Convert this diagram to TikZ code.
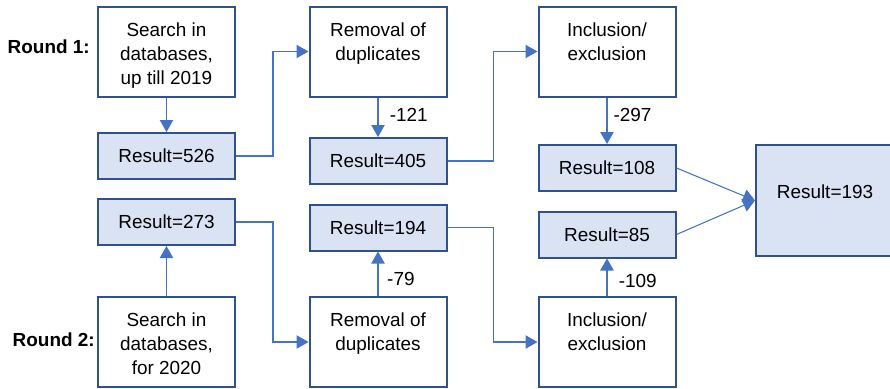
\documentclass[tikz,border=0pt]{standalone}
\usepackage{fontspec}
\setmainfont{Liberation Sans}
\usetikzlibrary{arrows.meta}
\definecolor{boxline}{RGB}{47,82,143}
\definecolor{boxfill}{RGB}{218,227,243}
\definecolor{flowline}{RGB}{68,114,196}

\begin{document}
\begin{tikzpicture}[x=0.75pt,y=0.75pt,yscale=-1,xscale=1,
		every node/.style={font=\fontsize{14.2pt}{18pt}\selectfont},
		stepbox/.style={draw=boxline,line width=1.5pt,fill=white,minimum width=102.75pt,minimum height=67.5pt,inner sep=0pt},
		resultbox/.style={draw=boxline,line width=1.5pt,fill=boxfill,minimum width=102.75pt,minimum height=34.5pt,inner sep=0pt},
		steptext/.style={anchor=north,align=center,inner sep=0pt,yshift=-12.5pt},
		flow/.style={draw=flowline,line width=0.8pt,-{Triangle[width=10pt,length=9pt]}},
		cut/.style={anchor=west,inner sep=0pt},
		roundlabel/.style={anchor=east,inner sep=0pt,font=\bfseries\fontsize{14.2pt}{18pt}\selectfont}]
	\useasboundingbox (0,0) rectangle (890,389);
	
	% Text Node
	\node[roundlabel] (rnd1) at (90,47) {Round 1:};
	% Text Node
	\node[roundlabel] (rnd2) at (95,340) {Round 2:};
	
	%Round 1 boxes
	\node[stepbox] (srch1) at (166.5,51.5) {};
	\node[steptext] (srch1t) at (srch1.north) {Search in\\databases,\\up till 2019};
	\node[stepbox] (dup1) at (378,51.5) {};
	\node[steptext] (dup1t) at (dup1.north) {Removal of\\duplicates};
	\node[stepbox] (incl1) at (607,51.5) {};
	\node[steptext] (incl1t) at (incl1.north) {Inclusion/\\exclusion};
	\node[resultbox] (res526) at (166.5,156) {Result=526};
	\node[resultbox] (res405) at (378,161) {Result=405};
	\node[resultbox] (res108) at (607,168) {Result=108};
	
	%Round 2 boxes
	\node[resultbox] (res273) at (166.5,222) {Result=273};
	\node[resultbox] (res194) at (378,227.5) {Result=194};
	\node[resultbox] (res85) at (607,234.5) {Result=85};
	\node[stepbox] (srch2) at (166.5,342) {};
	\node[steptext] (srch2t) at (srch2.north) {Search in\\databases,\\for 2020};
	\node[stepbox] (dup2) at (378,342) {};
	\node[steptext] (dup2t) at (dup2.north) {Removal of\\duplicates};
	\node[stepbox] (incl2) at (607,342) {};
	\node[steptext] (incl2t) at (incl2.north) {Inclusion/\\exclusion};
	
	%Total
	\node[resultbox,minimum width=103.5pt,minimum height=83.25pt] (res193) at (825,200.5) {};
	\node (res193t) at (825,192) {Result=193};
	
	%Connectors round 1
	\draw[flow] (srch1) -- (res526);
	\draw[flow] (res526.east) -- ++(37,0) |- (dup1.west);
	\draw[flow] (dup1) -- node[cut,pos=0.45,xshift=8.5pt] (cut121) {-121} (res405);
	\draw[flow] (res405.east) -- ++(46,0) |- (incl1.west);
	\draw[flow] (incl1) -- node[cut,pos=0.38,xshift=4.5pt] (cut297) {-297} (res108);
	
	%Connectors round 2
	\draw[flow] (srch2) -- (res273);
	\draw[flow] (res273.east) -- ++(37,0) |- (dup2.west);
	\draw[flow] (dup2) -- node[cut,pos=0.38,xshift=6.5pt] (cut79) {-79} (res194);
	\draw[flow] (res194.east) -- ++(46,0) |- (incl2.west);
	\draw[flow] (incl2) -- node[cut,pos=0.4,xshift=8.5pt] (cut109) {-109} (res85);
	
	%Into total
	\draw[flow] (res108.east) -- (res193.west);
	\draw[flow] (res85.east) -- (res193.west);
	
\end{tikzpicture}
\end{document}
